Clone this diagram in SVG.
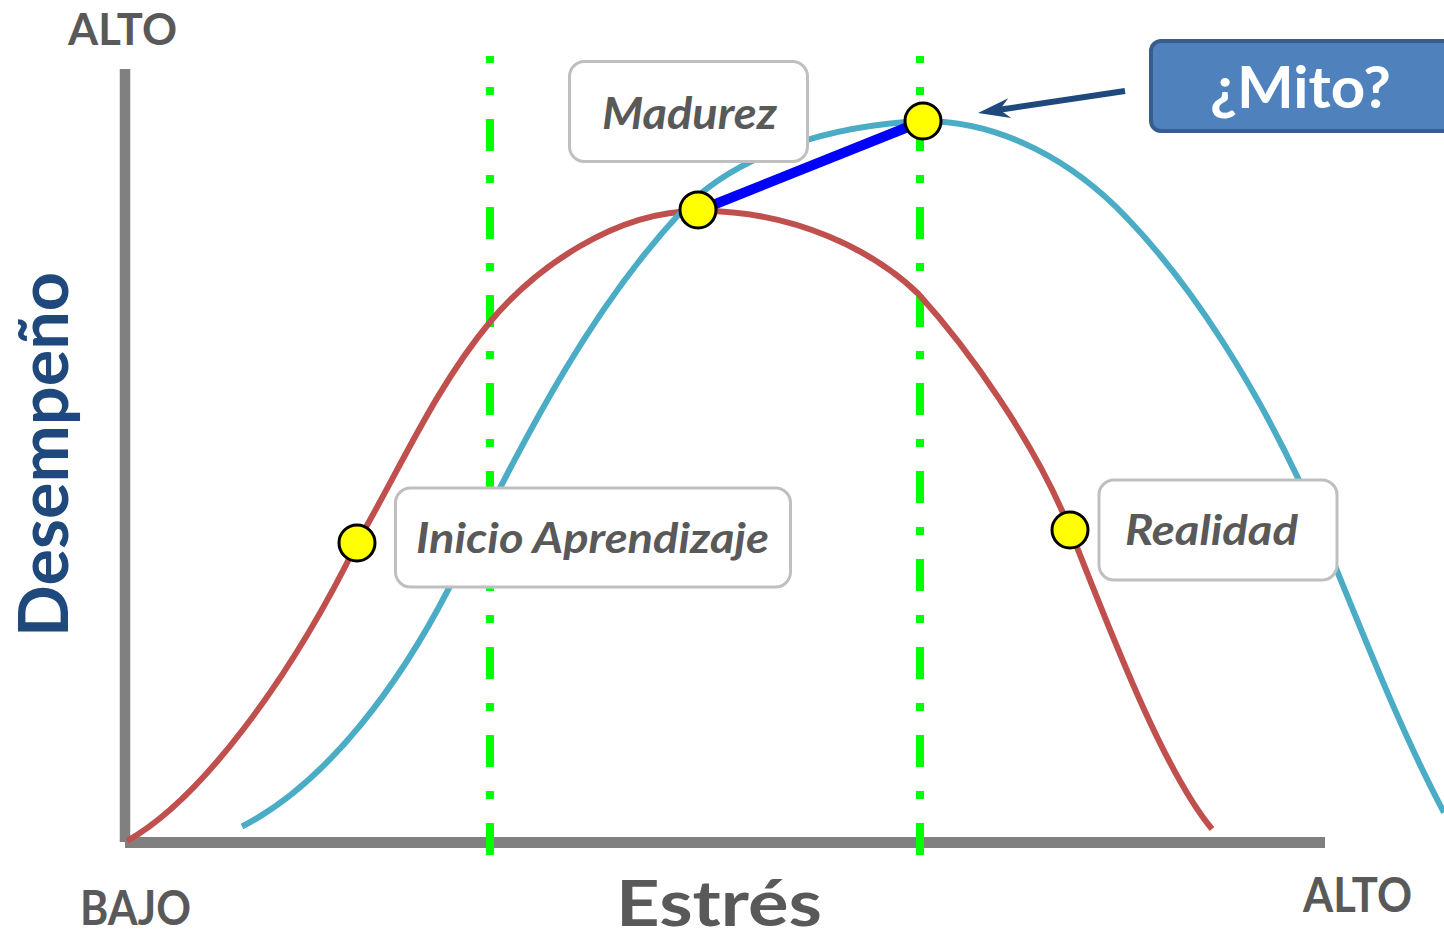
<svg xmlns="http://www.w3.org/2000/svg" width="1444" height="940" viewBox="0 0 1444 940">
  <style>
    .axis { stroke: #808080; fill: none; }
    .guide { stroke: #00FF00; stroke-width: 8; stroke-dasharray: 32 24 8 24; stroke-dashoffset: 25; fill: none; }
    .curve { fill: none; stroke-width: 6; stroke-linecap: butt; }
    .dot { fill: #FFFF00; stroke: #000000; stroke-width: 3; }
    .label { fill: #FFFFFF; stroke: #BFBFBF; stroke-width: 3; }
    .lt { font-family: "Lato", "Open Sans", sans-serif; font-weight: bold; font-style: italic; fill: #595959; }
    .ax { font-family: "Lato", "Open Sans", sans-serif; font-weight: bold; fill: #595959; }
  </style>
  <defs>
    <marker id="arrowhead" markerUnits="userSpaceOnUse" markerWidth="40" markerHeight="30" viewBox="-40 -15 40 30" refX="-20" refY="0" orient="auto">
      <path d="M0,0 L-32,-10 L-22,0 L-32,10 Z" fill="#1F497D"/>
    </marker>
  </defs>

  <g id="axes">
    <line class="axis" x1="125" y1="69" x2="125" y2="842" stroke-width="10.5"/>
    <line class="axis" x1="125" y1="842.5" x2="1325" y2="842.5" stroke-width="11"/>
  </g>

  <g id="guides">
    <line class="guide" x1="490" y1="56" x2="490" y2="855"/>
    <line class="guide" x1="920" y1="56" x2="920" y2="855"/>
  </g>

  <g id="connectors">
    <path id="curve-real" class="curve" stroke="#C0504D" d="M127,841 C200,800 290,680 357,543 C400,469 435,388 490,322 C535,268 615,211 698,211 C795,210 875,252 918,293.5 C968,348.5 1035,442 1070,529.5 C1107,622.5 1162,769 1212,829"/>
    <path id="curve-myth" class="curve" stroke="#4BACC6" d="M242,826.5 C330,781.5 402,679 448,590 C516,457 581,319 681,212 C739,150 838,125 923,121 C1003,121 1075,163 1127,218 C1196,290 1255,387.5 1297.7,477.5 C1346,587 1388,706.6 1444,812.6"/>
    <line id="myth-link" x1="698" y1="211" x2="923" y2="121" stroke="#0000FF" stroke-width="10"/>
    <line id="myth-arrow" x1="1125" y1="91" x2="997.8" y2="110" stroke="#1F497D" stroke-width="6" marker-end="url(#arrowhead)"/>
  </g>

  <g id="dot-inicio"><circle class="dot" cx="357" cy="543" r="18"/></g>
  <g id="dot-madurez"><circle class="dot" cx="698" cy="210" r="18"/></g>
  <g id="dot-mito"><circle class="dot" cx="923" cy="121" r="18"/></g>
  <g id="dot-realidad"><circle class="dot" cx="1070" cy="530" r="18"/></g>

  <g id="node-madurez">
    <rect class="label" x="569.5" y="61.5" width="238" height="100" rx="15"/>
    <text class="lt" x="602" y="129" font-size="43" textLength="175" lengthAdjust="spacingAndGlyphs">Madurez</text>
  </g>

  <g id="node-inicio">
    <rect class="label" x="395.5" y="488" width="395" height="99" rx="15"/>
    <text class="lt" x="416" y="553" font-size="42" textLength="353" lengthAdjust="spacingAndGlyphs">Inicio Aprendizaje</text>
  </g>

  <g id="node-realidad">
    <rect class="label" x="1099" y="480" width="238" height="100" rx="15"/>
    <text class="lt" x="1125" y="545" font-size="42" textLength="173" lengthAdjust="spacingAndGlyphs">Realidad</text>
  </g>

  <g id="node-mito">
    <rect x="1151" y="41" width="305" height="90" rx="10" fill="#4F81BD" stroke="#385D8A" stroke-width="4"/>
    <text x="1210" y="108" font-family="Lato, 'Open Sans', sans-serif" font-weight="bold" font-size="57" fill="#FFFFFF" textLength="181" lengthAdjust="spacingAndGlyphs">¿Mito?</text>
  </g>

  <g id="axis-labels">
    <text class="ax" x="68" y="45" font-size="44" textLength="109" lengthAdjust="spacingAndGlyphs">ALTO</text>
    <text class="ax" x="80" y="925" font-size="48" textLength="111" lengthAdjust="spacingAndGlyphs">BAJO</text>
    <text class="ax" x="1303" y="912" font-size="47" textLength="109" lengthAdjust="spacingAndGlyphs">ALTO</text>
    <text class="ax" x="616" y="926" font-size="64" textLength="206" lengthAdjust="spacingAndGlyphs">Estrés</text>
    <text x="0" y="0" transform="translate(68,637) rotate(-90)" font-family="Lato, 'Open Sans', sans-serif" font-weight="bold" font-size="68" fill="#1F497D" textLength="365" lengthAdjust="spacingAndGlyphs">Desempeño</text>
  </g>
</svg>
